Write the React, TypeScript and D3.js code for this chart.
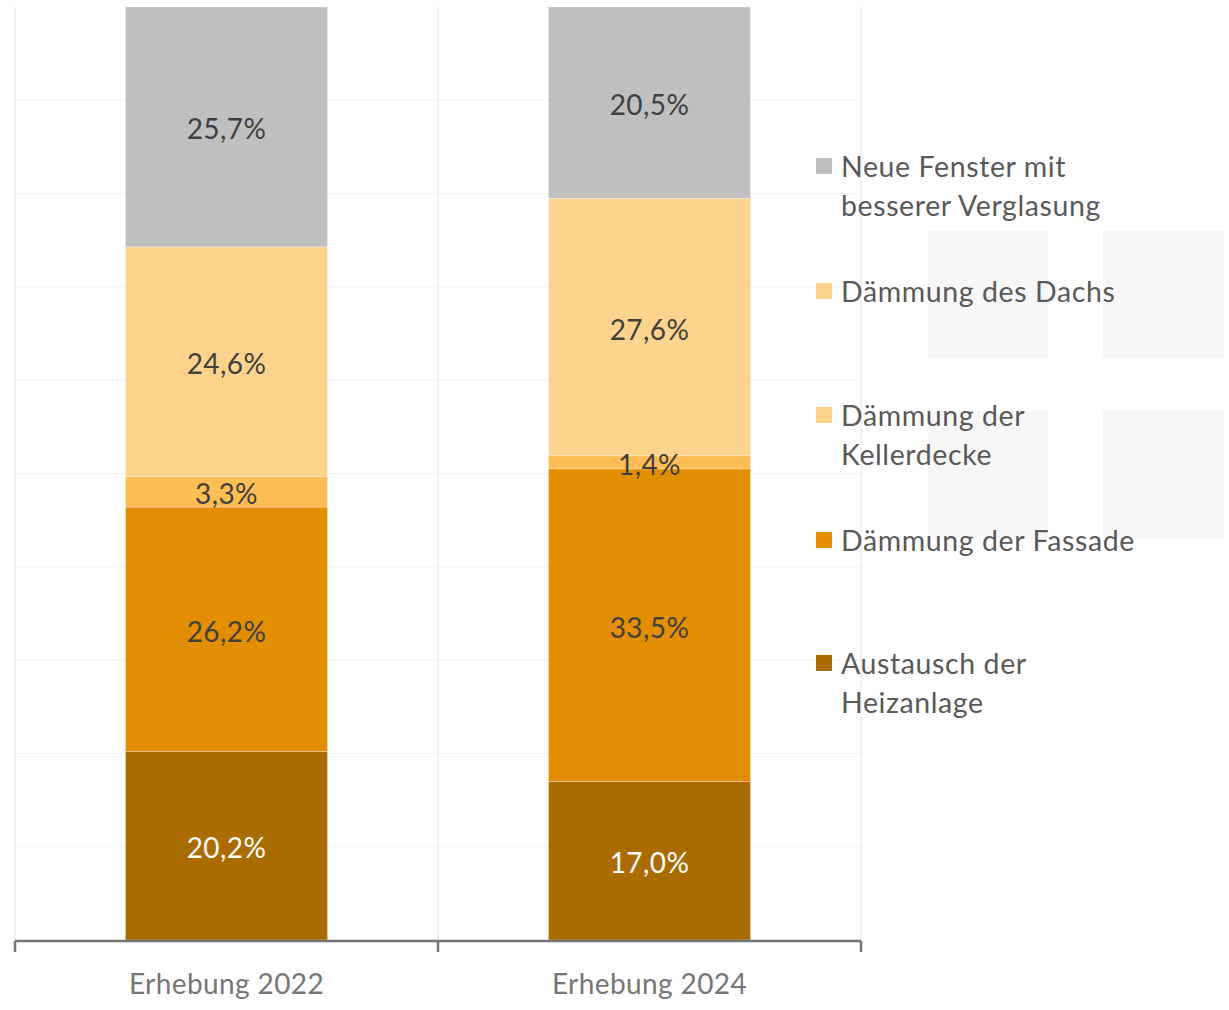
import React from "react";
import * as d3 from "d3";

const categories = ["Erhebung 2022", "Erhebung 2024"];
const seriesKeys = ["heizanlage", "fassade", "keller", "dach", "fenster"];
const heizanlage = [20.2, 17.0];
const fassade = [26.2, 33.5];
const keller = [3.3, 1.4];
const dach = [24.6, 27.6];
const fenster = [25.7, 20.5];
const barColors = ["#AA6C00", "#E38E00", "#FFBD55", "#FED38E", "#BFBFBF"];
const labelColors = ["#FFFFFF", "#404040", "#404040", "#404040", "#404040"];
const legendColors = ["#BFBFBF", "#FED38E", "#FED38E", "#E38E00", "#AA6C00"];
const legendLines = [
  ["Neue Fenster mit", "besserer Verglasung"],
  ["Dämmung des Dachs"],
  ["Dämmung der", "Kellerdecke"],
  ["Dämmung der Fassade"],
  ["Austausch der", "Heizanlage"],
];
const gridTicks = [10, 20, 30, 40, 50, 60, 70, 80, 90];

const W = 1229;
const H = 1010;
const FONT = "Lato, 'Open Sans', sans-serif";

export default function App() {
  const table = categories.map((c, i) => ({
    cat: c,
    heizanlage: heizanlage[i],
    fassade: fassade[i],
    keller: keller[i],
    dach: dach[i],
    fenster: fenster[i],
  }));
  const stacked = d3.stack<any>().keys(seriesKeys)(table);

  const x = d3.scaleBand().domain(categories).range([15, 861]).paddingInner(0).paddingOuter(0);
  const y = d3.scaleLinear().domain([0, 100]).range([940, 7]);
  const barW = x.bandwidth() * 0.4775;
  const fmt = (v: number) => d3.format(".1f")(v).replace(".", ",") + "%";

  const legendStarts = [166, 291, 415, 540, 663];

  return (
    <svg width={W} height={H} style={{ position: "absolute", left: 0, top: 0 }} fontFamily={FONT}>
      <rect x={0} y={0} width={W} height={H} fill="#ffffff" />
      {/* faint background squares */}
      <rect x={928} y={231} width={120} height={127} fill="#F7F7F7" />
      <rect x={1103} y={231} width={121} height={127} fill="#F7F7F7" />
      <rect x={928} y={411} width={120} height={128} fill="#F7F7F7" />
      <rect x={1103} y={411} width={121} height={128} fill="#F7F7F7" />
      {/* gridlines */}
      {gridTicks.map((t) => (
        <line key={t} x1={15} x2={861} y1={y(t)} y2={y(t)} stroke="#F3F3F3" strokeWidth={1} />
      ))}
      {[15, 15 + x.bandwidth(), 861].map((gx, i) => (
        <line key={i} x1={gx} x2={gx} y1={y(100)} y2={y(0)} stroke="#EDEDED" strokeWidth={1.5} />
      ))}
      {/* bars */}
      {stacked.map((s, si) =>
        s.map((d, ci) => {
          const cx = (x(categories[ci]) as number) + x.bandwidth() / 2;
          return (
            <rect
              key={`${si}-${ci}`}
              x={cx - barW / 2}
              y={y(d[1])}
              width={barW}
              height={y(d[0]) - y(d[1])}
              fill={barColors[si]}
              stroke="#ffffff"
              strokeOpacity={0.35}
              strokeWidth={0.8}
            />
          );
        })
      )}
      {stacked.map((s, si) =>
        s.map((d, ci) => {
          const cx = (x(categories[ci]) as number) + x.bandwidth() / 2;
          return (
            <text
              key={`t${si}-${ci}`}
              x={cx}
              y={(y(d[0]) + y(d[1])) / 2}
              dy="0.45em"
              textAnchor="middle"
              fontSize={28}
              letterSpacing={0.4}
              fill={labelColors[si]}
            >
              {fmt(d[1] - d[0])}
            </text>
          );
        })
      )}
      {/* axis */}
      <line x1={15} x2={861} y1={941} y2={941} stroke="#757575" strokeWidth={2.5} />
      {[15, 15 + x.bandwidth(), 861].map((gx, i) => (
        <line key={`tk${i}`} x1={gx} x2={gx} y1={941} y2={952} stroke="#757575" strokeWidth={2.5} />
      ))}
      {categories.map((c) => (
        <text
          key={c}
          x={(x(c) as number) + x.bandwidth() / 2}
          y={994}
          textAnchor="middle"
          fontSize={28}
          letterSpacing={0.4}
          fill="#767676"
        >
          {c}
        </text>
      ))}
      {/* legend */}
      {legendLines.map((lines, i) => (
        <g key={`lg${i}`}>
          <rect x={816} y={legendStarts[i] - 8} width={16} height={16} fill={legendColors[i]} />
          {lines.map((ln, li) => (
            <text
              key={li}
              x={841}
              y={legendStarts[i] + li * 39}
              dy="0.4em"
              fontSize={28.5}
              letterSpacing={0.6}
              fill="#595959"
            >
              {ln}
            </text>
          ))}
        </g>
      ))}
    </svg>
  );
}
